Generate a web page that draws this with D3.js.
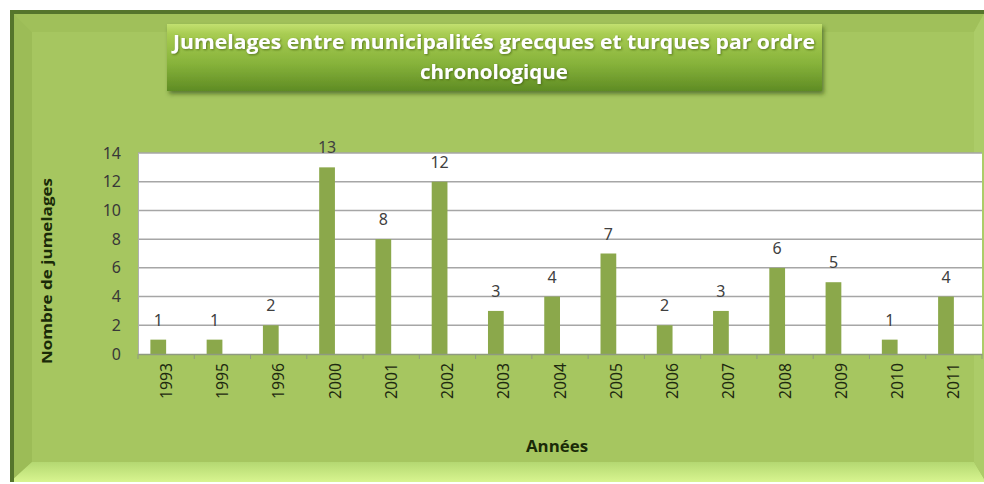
<!DOCTYPE html>
<html><head><meta charset="utf-8">
<script src="https://cdn.jsdelivr.net/npm/d3@7"></script>
<style>body{margin:0;background:#fff}svg{display:block}</style>
</head><body>
<svg id="c" width="984" height="484"></svg>
<script>
const years = ["1993","1995","1996","2000","2001","2002","2003","2004","2005","2006","2007","2008","2009","2010","2011"];
const counts = [1,1,2,13,8,12,3,4,7,2,3,6,5,1,4];
const yTicks = [0,2,4,6,8,10,12,14];
const titleLines = ["Jumelages entre municipalités  grecques et turques par ordre","chronologique"];
const yTitle = "Nombre de jumelages";
const xTitle = "Années";

const svg = d3.select("#c");
const defs = svg.append("defs");

const tg = defs.append("linearGradient").attr("id","tg").attr("x1",0).attr("y1",0).attr("x2",0).attr("y2",1);
tg.append("stop").attr("offset","0").attr("stop-color","#c2e070");
tg.append("stop").attr("offset","0.15").attr("stop-color","#a8cc52");
tg.append("stop").attr("offset","0.6").attr("stop-color","#86b23a");
tg.append("stop").attr("offset","1").attr("stop-color","#5f8c24");
const bb = defs.append("linearGradient").attr("id","bb").attr("x1",0).attr("y1",0).attr("x2",0).attr("y2",1);
bb.append("stop").attr("offset","0").attr("stop-color","#b4d872");
bb.append("stop").attr("offset","1").attr("stop-color","#d8f590");
const sh = defs.append("filter").attr("id","sh").attr("x","-5%").attr("y","-20%").attr("width","110%").attr("height","150%");
sh.append("feDropShadow").attr("dx",2).attr("dy",3).attr("stdDeviation",2).attr("flood-color","#2f4a10").attr("flood-opacity",0.6);
const ts = defs.append("filter").attr("id","ts");
ts.append("feDropShadow").attr("dx",1).attr("dy",1).attr("stdDeviation",0.8).attr("flood-color","#3a5a10").attr("flood-opacity",0.7);

// frame
const FX=10, FY=10, FW=976, FH=472;
svg.append("rect").attr("x",FX).attr("y",FY).attr("width",FW).attr("height",FH).attr("fill","#a6c660");
svg.append("polygon").attr("points",`${FX},${FY} ${FX+FW},${FY} ${FX+FW-12},${FY+22} ${FX+22},${FY+22}`).attr("fill","#a0c05a");
svg.append("polygon").attr("points",`${FX},${FY} ${FX+22},${FY+22} ${FX+22},${FY+FH-20} ${FX},${FY+FH}`).attr("fill","#9cbc57");
svg.append("polygon").attr("points",`${FX},${FY+FH} ${FX+22},${FY+FH-20} ${FX+FW-12},${FY+FH-20} ${FX+FW},${FY+FH}`).attr("fill","url(#bb)");
svg.append("polygon").attr("points",`${FX+FW},${FY} ${FX+FW-12},${FY+22} ${FX+FW-12},${FY+FH-20} ${FX+FW},${FY+FH}`).attr("fill","#accc68");
svg.append("rect").attr("x",FX).attr("y",FY).attr("width",FW).attr("height",4).attr("fill","#55752c");
svg.append("rect").attr("x",FX).attr("y",FY).attr("width",4).attr("height",FH).attr("fill","#55752c");

// title box
svg.append("rect").attr("x",167).attr("y",24).attr("width",655).attr("height",67).attr("fill","url(#tg)").attr("filter","url(#sh)");
svg.selectAll("text.title").data(titleLines).enter().append("text")
  .attr("x",494).attr("y",(d,i)=>49+i*30).attr("text-anchor","middle")
  .attr("font-family","'Open Sans', sans-serif").attr("font-weight","bold").attr("font-size",19)
  .attr("fill","#fff").attr("filter","url(#ts)")
  .attr("textLength",(d,i)=>i===0?642:148).attr("lengthAdjust","spacingAndGlyphs")
  .text(d=>d);

// plot
const L=138, R=982, T=153, B=354;
const x = d3.scaleBand().domain(years).range([L,R]).paddingInner(0).paddingOuter(0);
const y = d3.scaleLinear().domain([0,14]).range([B,T]);
svg.append("rect").attr("x",L).attr("y",T).attr("width",R-L).attr("height",B-T).attr("fill","#fff");

svg.append("g").selectAll("line").data(yTicks.filter(v=>v>0)).enter().append("line")
  .attr("x1",L).attr("x2",R).attr("y1",d=>y(d)).attr("y2",d=>y(d))
  .attr("stroke","#a6a6a6").attr("stroke-width",1.5);

// y axis
const ya = d3.axisLeft(y).tickValues(yTicks).tickSize(0).tickPadding(17);
const yg = svg.append("g").attr("transform",`translate(${L},0)`).call(ya);
yg.select(".domain").attr("stroke","#b0b0b0").attr("stroke-width",1);
yg.selectAll("text").attr("font-family","'Noto Sans', sans-serif").attr("font-size",16).attr("fill","#383838");

// bars
const bw = x.bandwidth();
svg.append("g").selectAll("rect").data(years).enter().append("rect")
  .attr("x",d=>x(d)+bw*0.22).attr("width",bw*0.28)
  .attr("y",(d,i)=>y(counts[i])).attr("height",(d,i)=>B-y(counts[i]))
  .attr("fill","#8ba84b");

// value labels
svg.append("g").selectAll("text").data(years).enter().append("text")
  .attr("x",d=>x(d)+bw*0.36).attr("y",(d,i)=>y(counts[i])-14)
  .attr("text-anchor","middle").attr("font-family","'Noto Sans', sans-serif").attr("font-size",16)
  .attr("fill","#404040").text((d,i)=>counts[i]);

// x axis
const xa = d3.axisBottom(x).tickSize(0).tickFormat(d=>d);
const xg = svg.append("g").attr("transform",`translate(0,${B})`).call(xa);
xg.select(".domain").attr("stroke","#8f9a80").attr("stroke-width",1.5);
xg.selectAll(".tick text").attr("font-family","'Noto Sans', sans-serif").attr("font-size",16).attr("fill","#1e2a10")
  .attr("x",-9).attr("y",0).attr("dy","0.35em").attr("transform","rotate(-90)").attr("text-anchor","end")
  .attr("textLength",36).attr("lengthAdjust","spacingAndGlyphs");
xg.append("g").selectAll("line").data(d3.range(years.length+1)).enter().append("line")
  .attr("x1",i=>L+i*bw).attr("x2",i=>L+i*bw).attr("y1",0).attr("y2",5)
  .attr("stroke","#8f9a80").attr("stroke-width",1);

// axis titles
svg.append("text").attr("transform","translate(52,271) rotate(-90)").attr("text-anchor","middle")
  .attr("font-family","'Open Sans', sans-serif").attr("font-weight","bold").attr("font-size",15)
  .attr("fill","#1a2a08").attr("textLength",186).attr("lengthAdjust","spacingAndGlyphs").text(yTitle);
svg.append("text").attr("x",557).attr("y",452).attr("text-anchor","middle")
  .attr("font-family","'Open Sans', sans-serif").attr("font-weight","bold").attr("font-size",16)
  .attr("fill","#1a2a08").attr("textLength",62).attr("lengthAdjust","spacingAndGlyphs").text(xTitle);
</script>
</body></html>
